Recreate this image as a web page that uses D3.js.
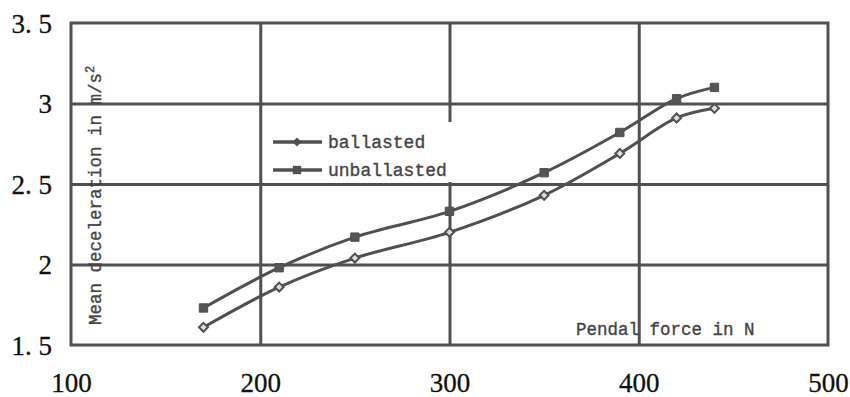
<!DOCTYPE html>
<html>
<head>
<meta charset="utf-8">
<script src="https://cdn.jsdelivr.net/npm/d3@7"></script>
<style>
  body { margin: 0; background: #fff; }
  svg { display: block; }
  .mono { font-family: "Liberation Mono", "DejaVu Sans Mono", monospace; fill: #444; stroke: #444; stroke-width: 0.35px; }
  .tick text { font-family: "Liberation Serif", serif; font-size: 27px; fill: #111; stroke: #111; stroke-width: 0.3px; }
</style>
</head>
<body>
<svg id="chart"></svg>
<script>
var force = [170, 210, 250, 300, 350, 390, 420, 440];
var ballasted = [1.61, 1.86, 2.04, 2.20, 2.43, 2.69, 2.91, 2.97];
var unballasted = [1.73, 1.98, 2.17, 2.33, 2.57, 2.82, 3.03, 3.10];
var xTicks = [100, 200, 300, 400, 500];
var yTicks = [1.5, 2, 2.5, 3, 3.5];
var seriesNames = ['ballasted', 'unballasted'];

(function() {
    'use strict';

    var WIDTH = 850, HEIGHT = 397;
    var INK = '#505050';
    var plot = { left: 71, top: 23, right: 828, bottom: 345 };

    var svg = d3.select('#chart').attr('width', WIDTH).attr('height', HEIGHT);

    var x = d3.scaleLinear().domain([100, 500]).range([plot.left, plot.right]);
    var y = d3.scaleLinear().domain([1.5, 3.5]).range([plot.bottom, plot.top]);

    // grid lines (inner ones only, the frame is drawn separately)
    svg.append('g')
        .attr('transform', 'translate(0,' + plot.bottom + ')')
        .call(d3.axisBottom(x).tickValues([200, 300, 400]).tickSize(-(plot.bottom - plot.top)).tickFormat(''))
        .call(g => g.select('.domain').remove())
        .call(g => g.selectAll('line').attr('stroke', INK).attr('stroke-width', 3));

    svg.append('g')
        .attr('transform', 'translate(' + plot.left + ',0)')
        .call(d3.axisLeft(y).tickValues([2, 2.5, 3]).tickSize(-(plot.right - plot.left)).tickFormat(''))
        .call(g => g.select('.domain').remove())
        .call(g => g.selectAll('line').attr('stroke', INK).attr('stroke-width', 3));

    svg.append('rect')
        .attr('x', plot.left).attr('y', plot.top)
        .attr('width', plot.right - plot.left).attr('height', plot.bottom - plot.top)
        .attr('fill', 'none').attr('stroke', INK).attr('stroke-width', 3);

    // tick labels
    svg.append('g')
        .attr('transform', 'translate(0,' + plot.bottom + ')')
        .call(d3.axisBottom(x).tickValues(xTicks).tickSize(0).tickPadding(28).tickFormat(d3.format('d')))
        .call(g => g.select('.domain').remove());

    svg.append('g')
        .attr('transform', 'translate(52,0)')
        .call(d3.axisLeft(y).tickValues(yTicks).tickSize(0).tickPadding(0)
            .tickFormat(d => d3.format('~g')(d).replace('.', '. ')))
        .call(g => g.select('.domain').remove())
        .call(g => g.selectAll('text').attr('dy', '0.34em').style('white-space', 'pre'));

    // series
    var line = d3.line()
        .x((d, i) => x(force[i]))
        .y(d => y(d))
        .curve(d3.curveCatmullRom.alpha(0.5));

    [ballasted, unballasted].forEach(function(vals) {
        svg.append('path')
            .datum(vals)
            .attr('d', line)
            .attr('fill', 'none')
            .attr('stroke', INK)
            .attr('stroke-width', 3);
    });

    // diamond = square turned by 45 degrees (d3's own diamond is too tall)
    var diamond = d3.symbol().type(d3.symbolSquare).size(40);
    var square = d3.symbol().type(d3.symbolSquare).size(70);

    svg.append('g').selectAll('path')
        .data(ballasted)
        .join('path')
            .attr('transform', (d, i) => 'translate(' + x(force[i]) + ',' + y(d) + ') rotate(45)')
            .attr('d', diamond)
            .attr('fill', '#ddd')
            .attr('stroke', INK)
            .attr('stroke-width', 2);

    svg.append('g').selectAll('path')
        .data(unballasted)
        .join('path')
            .attr('transform', (d, i) => 'translate(' + x(force[i]) + ',' + y(d) + ')')
            .attr('d', square)
            .attr('fill', '#555')
            .attr('stroke', INK)
            .attr('stroke-width', 1);

    // legend
    var legend = svg.append('g').attr('transform', 'translate(263,122)');
    legend.append('rect').attr('width', 196).attr('height', 60).attr('fill', '#fff');
    var markers = [diamond, square];
    seriesNames.forEach(function(name, i) {
        var row = legend.append('g').attr('transform', 'translate(0,' + (20 + i * 28) + ')');
        row.append('line').attr('x1', 10).attr('x2', 59).attr('stroke', INK).attr('stroke-width', 3.5);
        row.append('path').attr('transform', 'translate(34,0)' + (i === 0 ? ' rotate(45)' : ''))
            .attr('d', markers[i]).attr('fill', INK);
        row.append('text').attr('class', 'mono').attr('x', 65).attr('dy', '0.32em')
            .style('font-size', '18px').text(name);
    });

    // axis titles
    svg.append('text')
        .attr('class', 'mono')
        .attr('transform', 'translate(101,325) rotate(-90)')
        .style('font-size', '17.5px')
        .text('Mean deceleration in m/s')
        .append('tspan').attr('baseline-shift', 'super').style('font-size', '12px').text('2');

    svg.append('text')
        .attr('class', 'mono')
        .attr('x', 576).attr('y', 335)
        .style('font-size', '17.5px')
        .text('Pendal force in N');
})();
</script>
</body>
</html>
